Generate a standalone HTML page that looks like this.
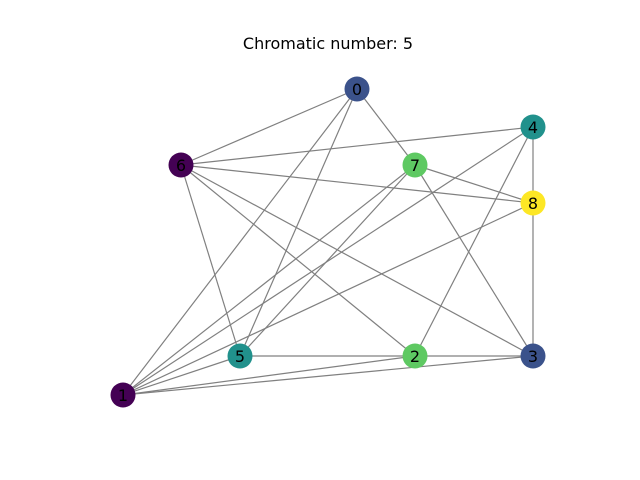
<!DOCTYPE html>
<html><head><meta charset="utf-8"><style>
html,body{margin:0;padding:0;background:#fff}
svg{display:block}
text{font-family:"DejaVu Sans","Liberation Sans",sans-serif}
</style></head><body>
<svg id="g" width="640" height="480" viewBox="0 0 640 480">
<text x="328" y="49" font-size="16" text-anchor="middle">Chromatic number: 5</text>
<g id="edges"></g><g id="nodes"></g>
</svg>
<script>
const nodeIds=[0,1,2,3,4,5,6,7,8];
const nodeX=[357,123,415,533,533,240,181,415,533];
const nodeY=[89,395,356,356,127,356,165,165,203];
const nodeColors=["#3b528b","#440154","#5ec962","#3b528b","#21918c","#21918c","#440154","#5ec962","#fde725"];
const edgeList=[[0,6],[0,1],[0,5],[0,7],[6,4],[6,8],[6,5],[6,2],[6,3],[4,8],[4,1],[4,2],[7,8],[7,3],[7,1],[7,5],[8,1],[8,3],[5,2],[2,3],[2,1],[3,1],[1,5]];
const NS="http://www.w3.org/2000/svg";
const eg=document.getElementById('edges'),ng=document.getElementById('nodes');
edgeList.forEach(([a,b])=>{
 const l=document.createElementNS(NS,'line');
 l.setAttribute('x1',nodeX[a]);l.setAttribute('y1',nodeY[a]);
 l.setAttribute('x2',nodeX[b]);l.setAttribute('y2',nodeY[b]);
 l.setAttribute('stroke','#808080');l.setAttribute('stroke-width','1.2');
 
 
 eg.appendChild(l);
});
nodeIds.forEach((id,i)=>{
 const c=document.createElementNS(NS,'circle');
 c.setAttribute('cx',nodeX[i]);c.setAttribute('cy',nodeY[i]);c.setAttribute('r','12.5');
 c.setAttribute('fill',nodeColors[i]);
 
 
 ng.appendChild(c);
 const t=document.createElementNS(NS,'text');
 t.setAttribute('x',nodeX[i]);t.setAttribute('y',nodeY[i]+6);
 t.setAttribute('text-anchor','middle');t.setAttribute('font-size','16');
 t.textContent=id;
 
 
 ng.appendChild(t);
});
</script>
</body></html>
